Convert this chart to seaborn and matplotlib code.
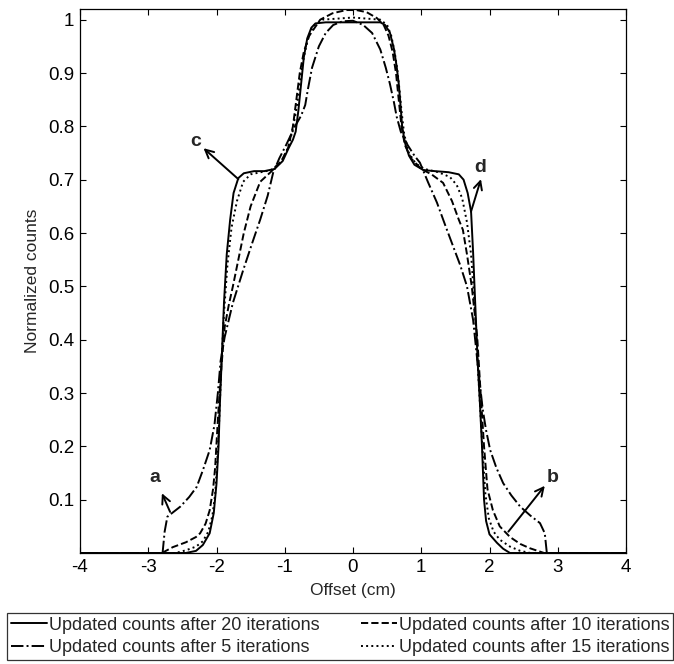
import matplotlib
matplotlib.use('Agg')
import matplotlib.pyplot as plt
import numpy as np
import pandas as pd
import seaborn as sns
from matplotlib.ticker import FixedLocator, FixedFormatter


# curve: 20 iterations (solid)
x_20 = [-4.0, -2.45, -2.3, -2.2, -2.1, -2.04, -2.0, -1.97, -1.95, -1.92, -1.89, -1.85, -1.8, -1.75,
        -1.68, -1.6, -1.45, -1.3, -1.15, -1.03, -0.94, -0.88, -0.84, -0.8, -0.76, -0.72, -0.67, -0.61,
        -0.55, -0.4, 0.0, 0.4, 0.47, 0.54, 0.6, 0.64, 0.67, 0.69, 0.72, 0.76, 0.82, 0.9, 1.03, 1.2,
        1.4, 1.55, 1.62, 1.68, 1.73, 1.76, 1.79, 1.83, 1.86, 1.89, 1.92, 1.95, 2.0, 2.11, 2.2, 2.3, 4.0]
y_20 = [0.0, 0.0, 0.004, 0.015, 0.037, 0.075, 0.13, 0.2, 0.28, 0.375, 0.47, 0.56, 0.625, 0.675,
        0.703, 0.712, 0.716, 0.716, 0.72, 0.735, 0.76, 0.775, 0.79, 0.83, 0.88, 0.93, 0.965, 0.985,
        0.993, 0.995, 0.995, 0.995, 0.99, 0.976, 0.945, 0.912, 0.88, 0.85, 0.8, 0.77, 0.745, 0.728, 0.718, 0.716,
        0.714, 0.71, 0.7, 0.675, 0.64, 0.563, 0.47, 0.35, 0.28, 0.2, 0.1, 0.06, 0.035, 0.019, 0.008, 0.0, 0.0]

# 10 iterations (dashed)
x_10 = [-4.0, -2.8, -2.64, -2.45, -2.3, -2.24, -2.16, -2.1, -2.05, -2.02, -1.98, -1.94, -1.88, -1.82,
        -1.76, -1.68, -1.6, -1.5, -1.36, -1.2, -1.05, -0.95, -0.88, -0.83, -0.78, -0.72, -0.64, -0.48,
        -0.3, -0.1, 0.05, 0.2, 0.35, 0.45, 0.52, 0.58, 0.63, 0.67, 0.71, 0.76, 0.85, 1.0, 1.15, 1.32,
        1.45, 1.55, 1.61, 1.67, 1.74, 1.82, 1.87, 1.92, 1.97, 2.05, 2.15, 2.3, 2.45, 2.59, 2.8, 4.0]
y_10 = [0.0, 0.0, 0.011, 0.02, 0.03, 0.037, 0.055, 0.08, 0.12, 0.16, 0.25, 0.33, 0.424, 0.465,
        0.5, 0.55, 0.6, 0.65, 0.696, 0.715, 0.735, 0.76, 0.8, 0.85, 0.9, 0.94, 0.97, 1.0,
        1.012, 1.018, 1.018, 1.014, 1.003, 0.99, 0.97, 0.94, 0.9, 0.85, 0.8, 0.765, 0.74, 0.72, 0.71, 0.694,
        0.66, 0.625, 0.606, 0.56, 0.5, 0.405, 0.3, 0.2, 0.12, 0.08, 0.05, 0.03, 0.017, 0.009, 0.0, 0.0]

# 5 iterations (dash-dot)
x_5 = [-4.0, -2.79, -2.76, -2.72, -2.62, -2.53, -2.4, -2.29, -2.2, -2.1, -2.03, -1.98, -1.94, -1.88,
       -1.76, -1.61, -1.48, -1.36, -1.25, -1.17, -1.08, -0.98, -0.85, -0.76, -0.7, -0.66, -0.6, -0.5,
       -0.4, -0.29, -0.15, 0.0, 0.15, 0.28, 0.4, 0.48, 0.54, 0.6, 0.64, 0.7, 0.8, 0.9, 0.98, 1.1,
       1.23, 1.35, 1.47, 1.57, 1.67, 1.76, 1.83, 1.9, 1.95, 2.01, 2.1, 2.2, 2.32, 2.45, 2.6, 2.74,
       2.81, 2.84, 4.0]
y_5 = [0.0, 0.0, 0.04, 0.068, 0.078, 0.087, 0.105, 0.124, 0.155, 0.193, 0.24, 0.3, 0.36, 0.405,
       0.469, 0.53, 0.58, 0.625, 0.67, 0.713, 0.74, 0.765, 0.8, 0.82, 0.84, 0.87, 0.91, 0.95,
       0.975, 0.99, 0.997, 0.998, 0.99, 0.975, 0.944, 0.91, 0.88, 0.845, 0.818, 0.79, 0.765, 0.745, 0.732, 0.695,
       0.657, 0.615, 0.574, 0.54, 0.5, 0.437, 0.35, 0.27, 0.23, 0.193, 0.16, 0.131, 0.108, 0.087, 0.07, 0.056,
       0.037, 0.0, 0.0]

# 15 iterations (dotted)
x_15 = [-4.0, -2.6, -2.45, -2.3, -2.2, -2.12, -2.06, -2.02, -1.99, -1.96, -1.93, -1.89, -1.84, -1.78,
        -1.7, -1.61, -1.5, -1.35, -1.2, -1.05, -0.95, -0.88, -0.82, -0.77, -0.72, -0.66, -0.58, -0.45,
        0.0, 0.4, 0.5, 0.56, 0.61, 0.65, 0.68, 0.71, 0.75, 0.82, 0.92, 1.05, 1.25, 1.42, 1.52, 1.6,
        1.67, 1.73, 1.78, 1.82, 1.86, 1.9, 1.94, 1.99, 2.06, 2.15, 2.3, 2.45, 2.6, 4.0]
y_15 = [0.0, 0.0, 0.005, 0.012, 0.022, 0.04, 0.07, 0.11, 0.17, 0.25, 0.35, 0.45, 0.54, 0.61,
        0.66, 0.696, 0.71, 0.714, 0.718, 0.733, 0.76, 0.795, 0.84, 0.89, 0.93, 0.965, 0.988, 1.0,
        1.004, 1.0, 0.99, 0.97, 0.94, 0.905, 0.87, 0.83, 0.785, 0.75, 0.73, 0.72, 0.714, 0.705, 0.69, 0.665,
        0.62, 0.56, 0.47, 0.37, 0.28, 0.19, 0.11, 0.065, 0.04, 0.025, 0.012, 0.004, 0.0, 0.0]

x_ticks = [-4, -3, -2, -1, 0, 1, 2, 3, 4]
y_ticks = [0.1, 0.2, 0.3, 0.4, 0.5, 0.6, 0.7, 0.8, 0.9, 1.0]
y_tick_labels = ['0.1', '0.2', '0.3', '0.4', '0.5', '0.6', '0.7', '0.8', '0.9', '1']

# annotation letters: (letter, text pos, arrow tail, arrow head)
notes = [('a', (-2.90, 0.141), (-2.68, 0.077), (-2.80, 0.112)),
         ('b', (2.92, 0.141), (2.276, 0.040), (2.81, 0.126)),
         ('c', (-2.31, 0.771), (-1.68, 0.701), (-2.19, 0.759)),
         ('d', (1.86, 0.722), (1.729, 0.640), (1.875, 0.701))]

sns.set_style('ticks')
plt.rcParams['font.family'] = ['Liberation Sans', 'DejaVu Sans']
plt.rcParams['axes.unicode_minus'] = False
plt.rcParams['xtick.direction'] = 'in'
plt.rcParams['ytick.direction'] = 'in'

fig = plt.figure(figsize=(6.74, 6.64), dpi=100)
ax = fig.add_axes([80 / 674, 1 - 553 / 664, 546 / 674, 544 / 664])

# legend order (column-wise): 20, 5, 10, 15
series = [(x_20, y_20, '-', 'Updated counts after 20 iterations'),
          (x_5, y_5, '-.', 'Updated counts after 5 iterations'),
          (x_10, y_10, '--', 'Updated counts after 10 iterations'),
          (x_15, y_15, ':', 'Updated counts after 15 iterations')]
for xs, ys, ls, lab in series:
    df = pd.DataFrame({'x': xs, 'y': ys})
    sns.lineplot(data=df, x='x', y='y', ax=ax, color='black', linestyle=ls,
                 linewidth=1.4, label=lab, sort=False, estimator=None)

ax.set_xlim(-4, 4)
ax.set_ylim(0, 1.02)
ax.xaxis.set_major_locator(FixedLocator(x_ticks))
ax.set_xticklabels([str(t) for t in x_ticks])
ax.yaxis.set_major_locator(FixedLocator(y_ticks))
ax.yaxis.set_major_formatter(FixedFormatter(y_tick_labels))
ax.tick_params(axis='both', which='major', labelsize=13.5, length=4, width=0.8,
               top=True, right=True, colors='black', pad=4)
for sp in ax.spines.values():
    sp.set_visible(True)
    sp.set_color('black')
    sp.set_linewidth(0.9)

ax.set_xlabel('Offset (cm)', fontsize=12.5, labelpad=5)
ax.set_ylabel('Normalized counts', fontsize=12.5, labelpad=6)

for letter, tpos, tail, head in notes:
    ax.annotate('', xy=head, xytext=tail,
                arrowprops=dict(arrowstyle='->', color='black', lw=1.4,
                                shrinkA=0, shrinkB=0, mutation_scale=15))
    ax.text(tpos[0], tpos[1], letter, fontsize=14, fontweight='bold',
            ha='center', va='center')

ax.get_legend().remove()
handles, labels = ax.get_legend_handles_labels()
leg = fig.legend(handles, labels, ncol=2, loc='upper left',
                 bbox_to_anchor=(7 / 674, 1 - 613 / 664), bbox_transform=fig.transFigure,
                 borderaxespad=0, frameon=True, fancybox=False, fontsize=13,
                 handlelength=2.0, handletextpad=0.1, columnspacing=2.3,
                 labelspacing=0.3, borderpad=0.2)
leg.get_frame().set_edgecolor('black')
leg.get_frame().set_linewidth(0.9)

fig.savefig('out.png', dpi=100)
